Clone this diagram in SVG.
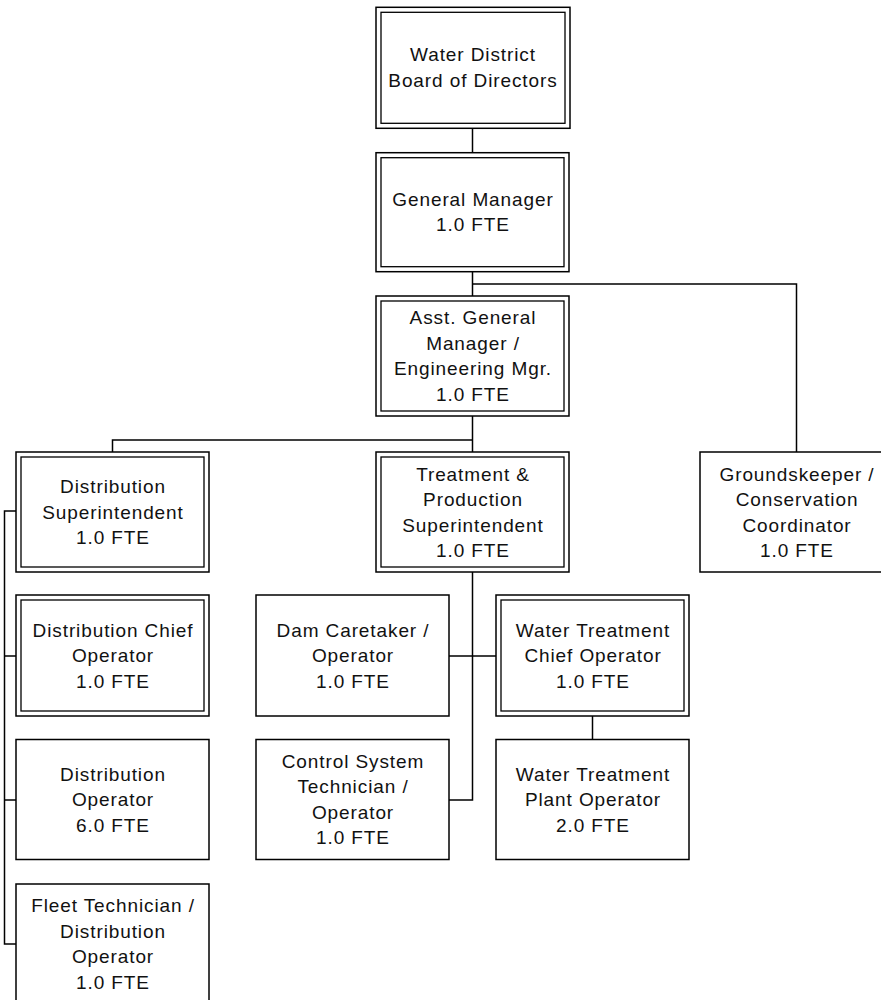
<svg xmlns="http://www.w3.org/2000/svg" width="881" height="1000" viewBox="0 0 881 1000">
  <style>
    .bg { fill: #ffffff; }
    .box { fill: #ffffff; stroke: #000000; stroke-width: 1.5; }
    .dbl { fill: none; stroke: #000000; stroke-width: 1.3; }
    .wire { fill: none; stroke: #000000; stroke-width: 1.5; }
    .lbl { font-family: "Liberation Sans", Arial, sans-serif; font-size: 19px; letter-spacing: 0.9px; fill: #111111; text-anchor: middle; }
  </style>
  <rect class="bg" x="0" y="0" width="881" height="1000"/>

  <!-- reporting lines -->
  <g id="connectors">
    <path class="wire" d="M472.5 128 V153"/>
    <path class="wire" d="M472.5 272 V296 M472.5 284 H796.5 V452"/>
    <path class="wire" d="M472.5 416 V452 M472.5 440 H112.5 V452"/>
    <path class="wire" d="M16 511 H4.5 V944 H16 M4.5 656 H16 M4.5 800 H16"/>
    <path class="wire" d="M472.5 572 V800 H449 M449 656 H496"/>
    <path class="wire" d="M592.5 716 V739.5"/>
  </g>

  <g id="board">
    <rect class="box" x="376" y="7.3" width="194" height="121"/>
    <rect class="dbl" x="381" y="12.3" width="184" height="111"/>
    <text class="lbl"><tspan x="473" y="61.4">Water District</tspan><tspan x="473" y="86.7">Board of Directors</tspan></text>
  </g>

  <g id="general-manager">
    <rect class="box" x="376" y="152.7" width="193" height="119"/>
    <rect class="dbl" x="381" y="157.7" width="183" height="109"/>
    <text class="lbl"><tspan x="473" y="205.5">General Manager</tspan><tspan x="473" y="231">1.0 FTE</tspan></text>
  </g>

  <g id="asst-general-manager">
    <rect class="box" x="376" y="296" width="193" height="120"/>
    <rect class="dbl" x="381" y="301" width="183" height="110"/>
    <text class="lbl"><tspan x="473" y="324.4">Asst. General</tspan><tspan x="473" y="349.9">Manager /</tspan><tspan x="473" y="375.4">Engineering Mgr.</tspan><tspan x="473" y="400.9">1.0 FTE</tspan></text>
  </g>

  <g id="distribution-superintendent">
    <rect class="box" x="16" y="452" width="193" height="120"/>
    <rect class="dbl" x="21" y="457" width="183" height="110"/>
    <text class="lbl"><tspan x="113" y="493.4">Distribution</tspan><tspan x="113" y="518.9">Superintendent</tspan><tspan x="113" y="544.4">1.0 FTE</tspan></text>
  </g>

  <g id="treatment-superintendent">
    <rect class="box" x="376" y="452" width="193" height="120"/>
    <rect class="dbl" x="381" y="457" width="183" height="110"/>
    <text class="lbl"><tspan x="473" y="480.5">Treatment &amp;</tspan><tspan x="473" y="506">Production</tspan><tspan x="473" y="531.5">Superintendent</tspan><tspan x="473" y="557">1.0 FTE</tspan></text>
  </g>

  <g id="groundskeeper">
    <rect class="box" x="700" y="452" width="193" height="120"/>
    <text class="lbl"><tspan x="797" y="480.5">Groundskeeper /</tspan><tspan x="797" y="506">Conservation</tspan><tspan x="797" y="531.5">Coordinator</tspan><tspan x="797" y="557">1.0 FTE</tspan></text>
  </g>

  <g id="distribution-chief">
    <rect class="box" x="16" y="595" width="193" height="121"/>
    <rect class="dbl" x="21" y="600" width="183" height="111"/>
    <text class="lbl"><tspan x="113" y="636.9">Distribution Chief</tspan><tspan x="113" y="662.4">Operator</tspan><tspan x="113" y="687.9">1.0 FTE</tspan></text>
  </g>

  <g id="dam-caretaker">
    <rect class="box" x="256" y="595" width="193" height="121"/>
    <text class="lbl"><tspan x="353" y="636.9">Dam Caretaker /</tspan><tspan x="353" y="662.4">Operator</tspan><tspan x="353" y="687.9">1.0 FTE</tspan></text>
  </g>

  <g id="water-treatment-chief">
    <rect class="box" x="496" y="595" width="193" height="121"/>
    <rect class="dbl" x="501" y="600" width="183" height="111"/>
    <text class="lbl"><tspan x="593" y="636.9">Water Treatment</tspan><tspan x="593" y="662.4">Chief Operator</tspan><tspan x="593" y="687.9">1.0 FTE</tspan></text>
  </g>

  <g id="distribution-operator">
    <rect class="box" x="16" y="739.5" width="193" height="120"/>
    <text class="lbl"><tspan x="113" y="780.7">Distribution</tspan><tspan x="113" y="806.2">Operator</tspan><tspan x="113" y="831.7">6.0 FTE</tspan></text>
  </g>

  <g id="control-system-technician">
    <rect class="box" x="256" y="739.5" width="193" height="120"/>
    <text class="lbl"><tspan x="353" y="767.9">Control System</tspan><tspan x="353" y="793.4">Technician /</tspan><tspan x="353" y="818.9">Operator</tspan><tspan x="353" y="844.4">1.0 FTE</tspan></text>
  </g>

  <g id="water-treatment-plant-operator">
    <rect class="box" x="496" y="739.5" width="193" height="120"/>
    <text class="lbl"><tspan x="593" y="780.7">Water Treatment</tspan><tspan x="593" y="806.2">Plant Operator</tspan><tspan x="593" y="831.7">2.0 FTE</tspan></text>
  </g>

  <g id="fleet-technician">
    <rect class="box" x="16" y="884" width="193" height="120"/>
    <text class="lbl"><tspan x="113" y="912.4">Fleet Technician /</tspan><tspan x="113" y="937.9">Distribution</tspan><tspan x="113" y="963.4">Operator</tspan><tspan x="113" y="988.9">1.0 FTE</tspan></text>
  </g>
</svg>
